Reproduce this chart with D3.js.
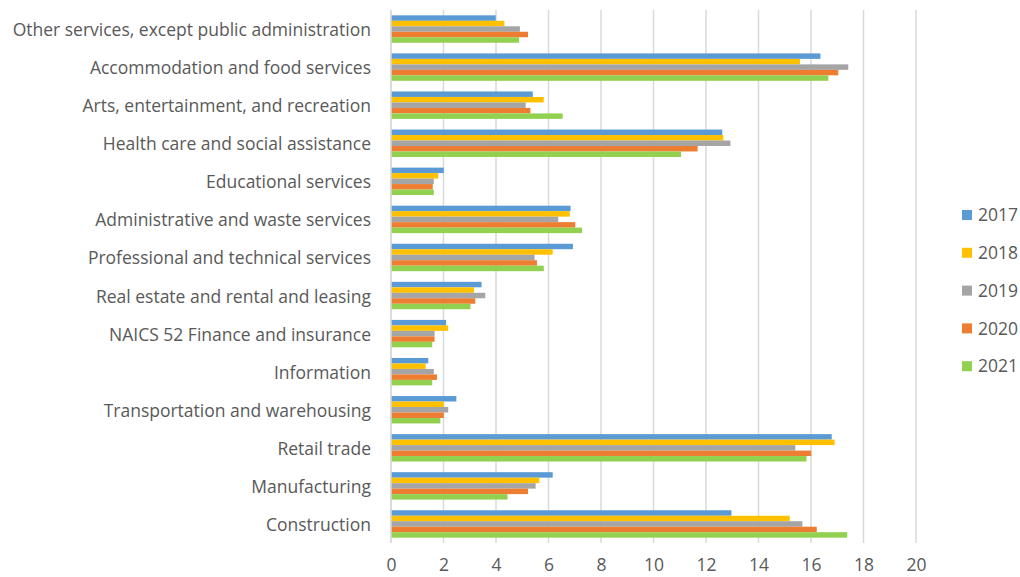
<!DOCTYPE html>
<html>
<head>
<meta charset="utf-8">
<script src="https://cdn.jsdelivr.net/npm/d3@7"></script>
<style>
  body { margin: 0; background: #fff; }
  svg text { font-family: "Open Sans", sans-serif; fill: #595959; }
</style>
</head>
<body>
<div class="bar-chart"></div>
<script>
// categories, top to bottom
const categories = [
  'Other services, except public administration',
  'Accommodation and food services',
  'Arts, entertainment, and recreation',
  'Health care and social assistance',
  'Educational services',
  'Administrative and waste services',
  'Professional and technical services',
  'Real estate and rental and leasing',
  'NAICS 52 Finance and insurance',
  'Information',
  'Transportation and warehousing',
  'Retail trade',
  'Manufacturing',
  'Construction'
];

const years = ['2017', '2018', '2019', '2020', '2021'];
const colors = ['#5B9BD5', '#FFC000', '#A5A5A5', '#ED7D31', '#92D050'];

// values per year, same order as categories
const v2017 = [3.99, 16.36, 5.40, 12.62, 2.01, 6.84, 6.93, 3.45, 2.10, 1.42, 2.49, 16.79, 6.16, 12.97];
const v2018 = [4.32, 15.58, 5.82, 12.66, 1.80, 6.81, 6.16, 3.16, 2.18, 1.32, 2.01, 16.90, 5.65, 15.19];
const v2019 = [4.91, 17.42, 5.13, 12.93, 1.63, 6.37, 5.47, 3.59, 1.66, 1.63, 2.18, 15.40, 5.51, 15.67];
const v2020 = [5.22, 17.04, 5.31, 11.68, 1.59, 7.02, 5.56, 3.21, 1.66, 1.75, 2.01, 16.01, 5.22, 16.22];
const v2021 = [4.88, 16.66, 6.54, 11.05, 1.63, 7.28, 5.82, 3.03, 1.57, 1.57, 1.88, 15.83, 4.44, 17.38];

const xTicks = [0, 2, 4, 6, 8, 10, 12, 14, 16, 18, 20];

const seriesValues = [v2017, v2018, v2019, v2020, v2021];

// flatten to one row per bar
const rows = [];
categories.forEach((c, i) => {
  years.forEach((y, j) => rows.push({cat: c, year: y, value: seriesValues[j][i]}));
});

const svg_width = 1020, svg_height = 577;
const margin = {top: 10, right: 104, bottom: 34, left: 391};
const chart_width = 916 - margin.left;
const chart_height = 543 - margin.top;
const fontSize = '17.5px';

const svg = d3.select('.bar-chart').append('svg')
  .attr('width', svg_width).attr('height', svg_height);

const g = svg.append('g').attr('transform', `translate(${margin.left},${margin.top})`);

const xScale = d3.scaleLinear([0, 20], [0, chart_width]);
const yScale = d3.scaleBand().domain(categories).range([0, chart_height]).paddingInner(0.28).paddingOuter(0.14);
const ySub = d3.scaleBand().domain(years).range([0, yScale.bandwidth()]);
const color = d3.scaleOrdinal(years, colors);

// gridlines
g.append('g').selectAll('line').data(xTicks).join('line')
  .attr('x1', d => xScale(d)).attr('x2', d => xScale(d))
  .attr('y1', 0).attr('y2', chart_height)
  .attr('stroke', '#D9D9D9').attr('stroke-width', 1.5);

// bars
g.append('g').selectAll('rect').data(rows).join('rect')
  .attr('x', 0)
  .attr('y', d => yScale(d.cat) + ySub(d.year))
  .attr('width', d => xScale(d.value))
  .attr('height', ySub.bandwidth())
  .attr('fill', d => color(d.year));

// left axis line
g.append('line').attr('x1', 0).attr('x2', 0).attr('y1', 0).attr('y2', chart_height)
  .attr('stroke', '#D9D9D9').attr('stroke-width', 1.5);

// category labels
const yAxis = d3.axisLeft(yScale).tickSize(0).tickPadding(20);
const yAxisDraw = g.append('g').call(yAxis);
yAxisDraw.select('.domain').remove();
yAxisDraw.selectAll('text').style('font-size', fontSize).attr('fill', '#595959').attr('dy', '0.4em');

// x axis labels
const xAxis = d3.axisBottom(xScale).tickValues(xTicks).tickSize(0).tickPadding(16);
const xAxisDraw = g.append('g').attr('transform', `translate(0,${chart_height})`).call(xAxis);
xAxisDraw.select('.domain').remove();
xAxisDraw.selectAll('text').style('font-size', fontSize).attr('fill', '#595959');

// legend
const legend = svg.append('g').attr('transform', 'translate(962,215)');
const item = legend.selectAll('g').data(years).join('g')
  .attr('transform', (d, i) => `translate(0,${i * 37.8})`);
item.append('rect').attr('x', 0).attr('y', -5).attr('width', 10).attr('height', 10)
  .attr('fill', d => color(d));
item.append('text').attr('x', 16).attr('dy', '0.35em')
  .style('font-size', fontSize).text(d => d);
</script>
</body>
</html>
